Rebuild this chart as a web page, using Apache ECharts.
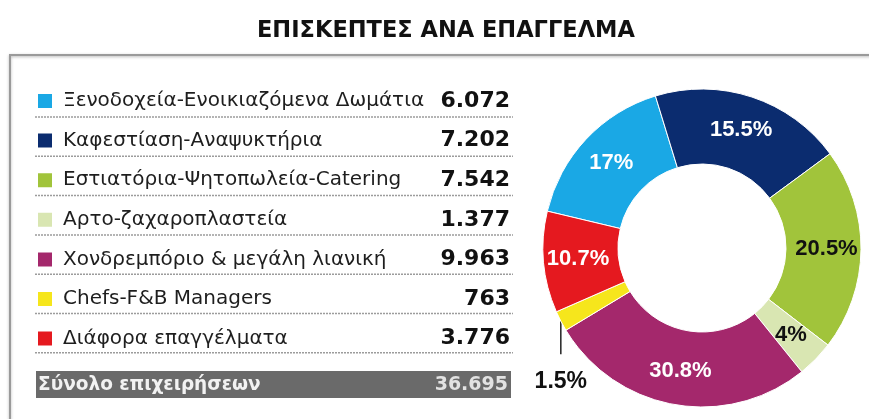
<!DOCTYPE html>
<html>
<head>
<meta charset="utf-8">
<script src="https://cdn.jsdelivr.net/npm/echarts@6/dist/echarts.min.js"></script>
<style>
  html, body { margin: 0; padding: 0; background: #fff; }
  #main { width: 869px; height: 419px; }
</style>
</head>
<body>
<div id="main"></div>
<script>
  const categories = [
    'Ξενοδοχεία-Ενοικιαζόμενα Δωμάτια',
    'Καφεστίαση-Αναψυκτήρια',
    'Εστιατόρια-Ψητοπωλεία-Catering',
    'Αρτο-ζαχαροπλαστεία',
    'Χονδρεμπόριο & μεγάλη λιανική',
    'Chefs-F&B Managers',
    'Διάφορα επαγγέλματα'
  ]
  const visitors = [6072, 7202, 7542, 1377, 9963, 763, 3776]
  // percentages as printed on the ring
  const pctLabels = ['17%', '15.5%', '20.5%', '4%', '30.8%', '1.5%', '10.7%']
  const colors = ['#1aa8e5', '#0b2c6f', '#a1c43b', '#d9e6b2', '#a4286c', '#f6e61c', '#e5191f']
  const pctColors = ['#fff', '#fff', '#111', '#111', '#fff', '#111', '#fff']
  const totalLabel = 'Σύνολο επιχειρήσεων'

  function fmt (n) {
    return String(n).replace(/\B(?=(\d{3})+(?!\d))/g, '.')
  }
  const total = visitors.reduce((a, b) => a + b, 0)

  const rowTop = 90
  const rowStep = 39.3

  const separators = categories.map((c, i) => ({
    type: 'line',
    shape: { x1: 35, y1: 117 + i * rowStep, x2: 513, y2: 117 + i * rowStep },
    style: { stroke: '#9c9c9c', lineWidth: 1.5, lineDash: [2, 1] }
  }))

  const chart = echarts.init(document.getElementById('main'))
  chart.setOption({
    animation: false,
    title: {
      text: 'ΕΠΙΣΚΕΠΤΕΣ ΑΝΑ ΕΠΑΓΓΕΛΜΑ',
      left: 252,
      top: 15,
      textStyle: { fontFamily: 'DejaVu Sans', fontWeight: 'bold', fontSize: 22.5, color: '#111' }
    },
    legend: {
      orient: 'vertical',
      left: 36,
      top: rowTop,
      padding: 0,
      icon: 'rect',
      itemWidth: 16,
      itemHeight: 16,
      itemGap: 17.6,
      selectedMode: false,
      data: categories,
      formatter: function (name) {
        const i = categories.indexOf(name)
        return '{n|' + name + '}{v|' + fmt(visitors[i]) + '}'
      },
      textStyle: {
        fontFamily: 'DejaVu Sans',
        fontSize: 20,
        rich: {
          n: { fontFamily: 'DejaVu Sans', fontSize: 20, color: '#1e1e1e', width: 374, padding: [0, 0, 0, 5], lineHeight: 21 },
          v: { fontFamily: 'DejaVu Sans', fontWeight: 'bold', fontSize: 22, color: '#111', width: 73, align: 'right', lineHeight: 21 }
        }
      }
    },
    graphic: [
      {
        type: 'rect',
        z: -1,
        shape: { x: 10, y: 55, width: 900, height: 420 },
        style: { fill: null, stroke: '#9a9a9a', lineWidth: 2, shadowBlur: 3, shadowColor: 'rgba(0,0,0,0.3)', shadowOffsetY: 1 }
      },
      ...separators,
      {
        type: 'rect',
        shape: { x: 36, y: 371, width: 475, height: 27 },
        style: { fill: '#6a6a6a' }
      },
      {
        type: 'text',
        x: 38,
        y: 385,
        style: { text: totalLabel, fontFamily: 'DejaVu Sans', fontWeight: 'bold', fontSize: 18.5, fill: '#f2f2f2', verticalAlign: 'middle' }
      },
      {
        type: 'text',
        x: 508,
        y: 385,
        style: { text: fmt(total), fontFamily: 'DejaVu Sans', fontWeight: 'bold', fontSize: 19, fill: '#e2e2e2', align: 'right', verticalAlign: 'middle' }
      }
    ],
    series: [
      {
        type: 'pie',
        center: [702, 248],
        radius: [84, 159],
        startAngle: 166.6,
        clockwise: true,
        avoidLabelOverlap: false,
        emphasis: { scale: false },
        itemStyle: { borderColor: '#fff', borderWidth: 1 },
        label: {
          show: true,
          position: 'inside',
          fontFamily: "'Liberation Sans', Arial, sans-serif",
          fontWeight: 'bold',
          fontSize: 22,
          formatter: function (p) { return pctLabels[p.dataIndex] }
        },
        labelLine: { show: false },
        labelLayout: function (params) {
          if (params.dataIndex !== 5 || !params.labelLinePoints) return {}
          const p = params.labelLinePoints[0]
          return {
            x: p[0],
            y: p[1] + 61,
            align: 'center',
            verticalAlign: 'middle',
            labelLinePoints: [[p[0], p[1]], [p[0], p[1] + 15], [p[0], p[1] + 33]]
          }
        },
        data: categories.map((c, i) => {
          const item = {
            name: c,
            value: visitors[i],
            itemStyle: { color: colors[i] },
            label: { color: pctColors[i] }
          }
          if (i === 5) {
            item.label = { color: pctColors[i], position: 'outside', fontSize: 23 }
            item.labelLine = { show: true, length: 10, length2: 10, lineStyle: { color: '#222', width: 1.5 } }
          }
          return item
        })
      }
    ]
  })
</script>
</body>
</html>
